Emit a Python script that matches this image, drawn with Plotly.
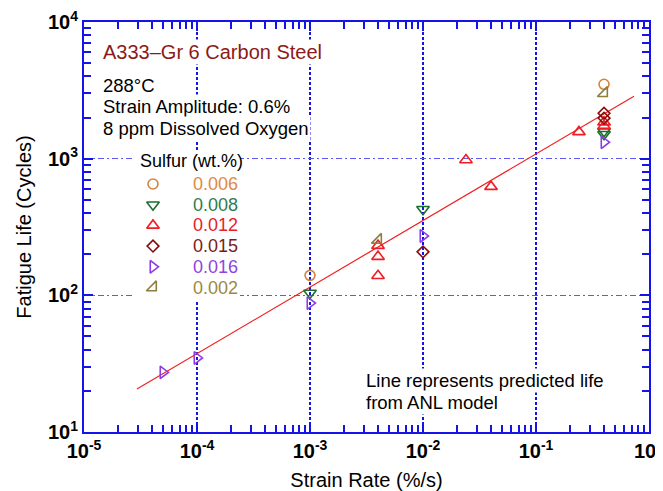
import plotly.graph_objects as go

# ---------------- data ----------------
s006_x = [1e-3, 0.4]
s006_y = [140, 3500]
s008_x = [1e-3, 1e-2, 0.4, 0.4]
s008_y = [104, 426, 1590, 1510]
s012_x = [4e-3, 4e-3, 4e-3, 0.024, 0.04, 0.24, 0.4, 0.4]
s012_y = [231, 192, 139, 977, 624, 1570, 1850, 1730]
s015_x = [1e-2, 0.4, 0.4]
s015_y = [208, 2150, 1980]
s016_x = [5e-5, 1e-4, 1e-3, 1e-2, 0.4]
s016_y = [27.3, 34.8, 87.7, 272, 1320]
s002_x = [4e-3, 0.4]
s002_y = [254, 3015]

line_x = [2.94e-5, 0.736]
line_y = [20.6, 2865]

series_labels = ["0.006", "0.008", "0.012", "0.015", "0.016", "0.002"]
series_colors = ["#D2843F", "#1B6E2E", "#F01C24", "#8B0A0A", "#8B3CE6", "#8C7D3C"]
series_text_colors = ["#DE8A45", "#2E7D4F", "#E8202A", "#7B1A1A", "#8F44E0", "#9A8A45"]
series_symbols = ["circle-open", "triangle-down-open", "triangle-up-open",
                  "diamond-open", "triangle-right-open", "triangle-se-open"]
series_sizes = [10, 11, 11, 9, 11, 11]
series_x = [s006_x, s008_x, s012_x, s015_x, s016_x, s002_x]
series_y = [s006_y, s008_y, s012_y, s015_y, s016_y, s002_y]

x_tick_exps = [-5, -4, -3, -2, -1, 0]
y_tick_exps = [1, 2, 3, 4]
x_range = [-5, 0]
y_range = [1, 4]

FONT = "Liberation Sans, Arial, sans-serif"
BLUE = "#1414E6"

# page offset of plotly div (default body margin is 8px)
W, H = 655, 483
ML, MR, MT, MB = 76, 14, 14, 59
PW = W - ML - MR          # 565
PH = H - MT - MB          # 410
PX0, PY0 = 8 + ML, 8 + MT  # plot area top-left on the page (84, 22)


def px2paper_x(px):
    return (px - PX0) / PW


def px2paper_y(py):
    return (PY0 + PH - py) / PH


def paper2datax(p):
    return 10 ** (x_range[0] + p * (x_range[1] - x_range[0]))


def paper2datay(p):
    return 10 ** (y_range[0] + p * (y_range[1] - y_range[0]))


fig = go.Figure()

fig.add_trace(go.Scatter(
    x=line_x, y=line_y, mode="lines",
    line=dict(color="#F02020", width=1.2),
    showlegend=False, hoverinfo="skip"))

for lab, col, sym, sz, xs, ys in zip(series_labels, series_colors,
                                     series_symbols, series_sizes, series_x, series_y):
    fig.add_trace(go.Scatter(
        x=xs, y=ys, mode="markers", name=lab, showlegend=False,
        marker=dict(symbol=sym, size=sz, color=col, line=dict(color=col, width=1.6)),
    ))

# ---------------- custom legend (symbols on an overlay 0..1 axis pair) ----------------
leg_sym_x = px2paper_x(153)
leg_txt_x = px2paper_x(191)
leg_rows = [px2paper_y(184 + 20.7 * i) for i in range(len(series_labels))]

# white legend box: above the gridlines, below the markers (shape coords in data units)
fig.add_shape(type="rect", xref="x", yref="y",
              x0=paper2datax(px2paper_x(133)), x1=paper2datax(px2paper_x(240)),
              y0=paper2datay(px2paper_y(301)), y1=paper2datay(px2paper_y(150)),
              fillcolor="white", line=dict(width=0), layer="between")

for i, (lab, col, tcol, sym, sz) in enumerate(zip(series_labels, series_colors, series_text_colors,
                                                 series_symbols, series_sizes)):
    fig.add_trace(go.Scatter(
        x=[leg_sym_x], y=[leg_rows[i]], mode="markers", xaxis="x2", yaxis="y2",
        showlegend=False, hoverinfo="skip",
        marker=dict(symbol=sym, size=sz, color=col, line=dict(color=col, width=1.6)),
    ))
    fig.add_annotation(text=lab, xref="paper", yref="paper", x=leg_txt_x, y=leg_rows[i],
                       xanchor="left", yanchor="middle", showarrow=False,
                       font=dict(family=FONT, size=18, color=tcol))

fig.add_annotation(text="Sulfur (wt.%)", xref="paper", yref="paper",
                   x=px2paper_x(138), y=px2paper_y(161),
                   xanchor="left", yanchor="middle", showarrow=False,
                   font=dict(family=FONT, size=18, color="black"))


def minor_vals(lo, hi):
    out = []
    for e in range(lo, hi):
        for k in range(2, 10):
            out.append(k * 10 ** e)
    return out


axis_common = dict(
    type="log",
    automargin=False,
    showline=True, linecolor=BLUE, linewidth=2,
    mirror="allticks",
    ticks="inside", ticklen=9, tickwidth=2, tickcolor=BLUE,
    tickfont=dict(family=FONT, size=20, color="black", weight="bold"),
    ticklabeloverflow="allow",
    zeroline=False,
)

fig.update_layout(
    xaxis=dict(
        **axis_common,
        range=x_range,
        tickmode="array",
        tickvals=[10 ** e for e in x_tick_exps],
        ticktext=[f"10<sup>{e}</sup>" for e in x_tick_exps],
        showgrid=True, gridcolor=BLUE, gridwidth=2, griddash="3px,2px",
        minor=dict(ticks="inside", ticklen=7, tickwidth=1.5, tickcolor=BLUE,
                   tickvals=minor_vals(-5, 0), showgrid=False),
        title=dict(text="Strain Rate (%/s)", font=dict(family=FONT, size=20, color="black"),
                   standoff=12),
    ),
    yaxis=dict(
        **axis_common,
        range=y_range,
        tickmode="array",
        tickvals=[10 ** e for e in y_tick_exps],
        ticktext=[f"10<sup>{e}</sup>" for e in y_tick_exps],
        showgrid=True, gridcolor="#5A5AF2", gridwidth=1, griddash="6px,3px,2px,3px",
        minor=dict(ticks="inside", ticklen=7, tickwidth=1.5, tickcolor=BLUE,
                   tickvals=minor_vals(1, 4), showgrid=False),
        title=dict(text="Fatigue Life (Cycles)", font=dict(family=FONT, size=20, color="black"),
                   standoff=11),
    ),
    xaxis2=dict(overlaying="x", range=[0, 1], visible=False, anchor="y2", automargin=False),
    yaxis2=dict(overlaying="y", range=[0, 1], visible=False, anchor="x2", automargin=False),
)


def ann(text, x, y, size, color="black"):
    fig.add_annotation(text=text, xref="paper", yref="paper", x=x, y=y,
                       xanchor="left", yanchor="middle", showarrow=False,
                       font=dict(family=FONT, size=size, color=color),
                       bgcolor="white", borderpad=1)


ann("A333\u2013Gr 6 Carbon Steel", px2paper_x(101), px2paper_y(52), 20, "#8B1A1A")
ann("288°C", px2paper_x(101), px2paper_y(85), 18.5)
ann("Strain Amplitude: 0.6%", px2paper_x(101), px2paper_y(107), 18.5)
ann("8 ppm Dissolved Oxygen", px2paper_x(101), px2paper_y(128), 18.5)
ann("Line represents predicted life", px2paper_x(364), px2paper_y(380), 18.5)
ann("from ANL model", px2paper_x(364), px2paper_y(402), 18.5)

fig.update_layout(
    width=W, height=H,
    margin=dict(l=ML, r=MR, t=MT, b=MB),
    paper_bgcolor="white", plot_bgcolor="white",
    font=dict(family=FONT, color="black"),
    showlegend=False,
)

fig.write_html("out.html")
